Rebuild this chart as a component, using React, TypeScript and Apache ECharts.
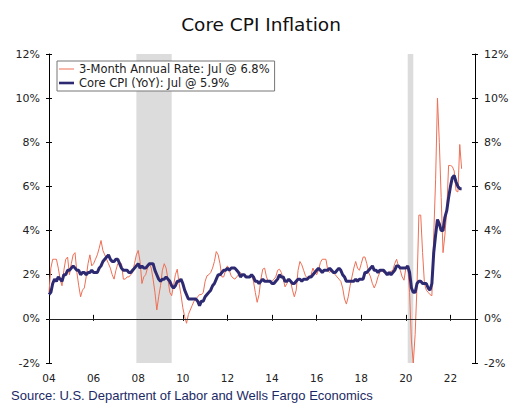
import React, { useEffect, useRef } from "react";
import * as echarts from "echarts";

const START_YEAR = 2004;
const seriesNames = ["3-Month Annual Rate: Jul @ 6.8%", "Core CPI (YoY): Jul @ 5.9%"];
const yTicks = { min: -2, max: 12, interval: 2 };
const recessions: [number, number][] = [
  [2007.917, 2009.5],
  [2020.083, 2020.333],
];

// 3-month annualized rate, monthly from Jan 2004
const threeMonth: number[] = [
  // 2004
  1.2, 2.3, 2.7, 2.7, 2.7, 2.3, 1.8, 1.5, 2.2, 2.7, 2.8, 2.0,
  // 2005
  2.5, 2.9, 3.0, 2.1, 1.5, 1.0, 1.3, 1.4, 1.9, 2.5, 2.9, 2.4,
  // 2006
  2.5, 2.7, 2.9, 3.2, 3.55, 3.1, 2.9, 2.7, 2.5, 2.3, 2.0, 1.8,
  // 2007
  2.2, 2.5, 2.5, 2.5, 1.8, 1.8, 1.9, 1.9, 2.0, 2.1, 2.5, 2.9,
  // 2008
  3.1, 2.6, 1.6, 1.9, 2.0, 2.3, 2.5, 2.3, 1.8, 1.2, 0.4, 1.0,
  // 2009
  1.5, 2.2, 2.5, 2.3, 1.8, 1.2, 1.05, 1.5, 2.0, 2.25, 1.6, 1.1,
  // 2010
  0.5, 0.1, -0.2, 0.2, 0.4, 0.6, 0.8, 0.9, 1.0, 1.1, 1.1, 1.2,
  // 2011
  1.7, 1.95, 2.0, 2.1, 2.3, 2.6, 3.05, 2.9, 2.5, 1.9, 1.9, 2.2,
  // 2012
  2.4, 2.2, 1.95, 1.85, 1.8, 1.9, 2.0, 2.1, 2.0, 1.95, 1.9, 1.9,
  // 2013
  1.95, 2.0, 1.7, 1.2, 0.75, 1.1, 1.8, 2.25, 2.3, 1.9, 1.7, 1.65,
  // 2014
  1.7, 1.8, 1.9, 2.2, 2.25, 2.1, 1.8, 1.45, 1.6, 1.75, 1.7, 1.3,
  // 2015
  1.0, 1.3, 2.2, 2.6, 2.45, 2.2, 1.95, 1.85, 1.9, 2.0, 2.3, 2.1,
  // 2016
  2.0, 2.2, 2.55, 2.7, 2.7, 2.7, 2.2, 2.1, 2.2, 2.1, 2.0, 1.9,
  // 2017
  1.8, 1.7, 1.4, 0.9, 0.67, 1.0, 1.5, 1.9, 2.3, 2.6, 2.3, 2.2,
  // 2018
  2.5, 2.8, 2.8, 2.5, 2.1, 1.9, 1.6, 1.4, 1.6, 1.9, 2.1, 2.2,
  // 2019
  2.1, 2.1, 2.05, 2.1, 2.15, 2.2, 2.5, 2.7, 2.4, 2.2, 1.9, 1.75,
  // 2020
  2.3, 2.4, 1.2, -1.0, -2.0, -0.7, 1.5, 4.7, 4.7, 3.0, 1.6, 1.3,
  // 2021
  1.2, 1.1, 1.05, 3.8, 6.3, 10.0, 8.0, 5.5, 3.0, 3.8, 4.9, 6.95,
  // 2022
  6.95, 6.9, 6.7, 5.8, 5.75, 7.9, 6.8,
];

// Core CPI year-over-year, monthly from Jan 2004
const coreYoY: number[] = [
  // 2004
  1.1, 1.2, 1.6, 1.8, 1.7, 1.9, 1.8, 1.7, 2.0, 2.0, 2.2, 2.2,
  // 2005
  2.3, 2.4, 2.3, 2.2, 2.2, 2.0, 2.1, 2.1, 2.0, 2.1, 2.1, 2.2,
  // 2006
  2.1, 2.1, 2.1, 2.3, 2.4, 2.6, 2.7, 2.8, 2.9, 2.7, 2.6, 2.6,
  // 2007
  2.7, 2.7, 2.5, 2.3, 2.2, 2.2, 2.2, 2.1, 2.1, 2.2, 2.3, 2.4,
  // 2008
  2.5, 2.3, 2.4, 2.3, 2.3, 2.4, 2.5, 2.5, 2.5, 2.2, 2.0, 1.8,
  // 2009
  1.7, 1.8, 1.8, 1.9, 1.8, 1.7, 1.5, 1.4, 1.5, 1.7, 1.7, 1.8,
  // 2010
  1.6, 1.3, 1.1, 0.9, 0.9, 0.9, 0.9, 0.9, 0.8, 0.6, 0.8, 0.8,
  // 2011
  1.0, 1.1, 1.2, 1.3, 1.5, 1.6, 1.8, 2.0, 2.0, 2.1, 2.2, 2.2,
  // 2012
  2.3, 2.2, 2.3, 2.3, 2.3, 2.2, 2.1, 1.9, 2.0, 2.0, 1.9, 1.9,
  // 2013
  1.9, 2.0, 1.9, 1.7, 1.7, 1.6, 1.7, 1.8, 1.7, 1.7, 1.7, 1.7,
  // 2014
  1.6, 1.6, 1.7, 1.8, 2.0, 1.9, 1.9, 1.7, 1.7, 1.8, 1.7, 1.6,
  // 2015
  1.6, 1.7, 1.8, 1.8, 1.7, 1.8, 1.8, 1.8, 1.9, 1.9, 2.0, 2.1,
  // 2016
  2.2, 2.3, 2.2, 2.1, 2.2, 2.2, 2.2, 2.3, 2.2, 2.1, 2.1, 2.2,
  // 2017
  2.3, 2.2, 2.0, 1.9, 1.7, 1.7, 1.7, 1.7, 1.7, 1.8, 1.7, 1.8,
  // 2018
  1.8, 1.8, 2.1, 2.1, 2.2, 2.3, 2.4, 2.2, 2.2, 2.1, 2.2, 2.2,
  // 2019
  2.2, 2.1, 2.0, 2.1, 2.0, 2.1, 2.2, 2.4, 2.4, 2.3, 2.3, 2.3,
  // 2020
  2.3, 2.4, 2.1, 1.4, 1.2, 1.2, 1.6, 1.7, 1.7, 1.6, 1.6, 1.6,
  // 2021
  1.4, 1.3, 1.6, 3.0, 3.8, 4.5, 4.3, 4.0, 4.0, 4.6, 4.9, 5.5,
  // 2022
  6.0, 6.4, 6.5, 6.2, 6.0, 5.9, 5.9,
];

const FONT = "Verdana, 'DejaVu Sans', sans-serif";

const toPairs = (arr: number[]) => arr.map((v, i) => [START_YEAR + i / 12, v]);

export default function App() {
  const ref = useRef<HTMLDivElement>(null);
  useEffect(() => {
    if (!ref.current) return;
    const chart = echarts.init(ref.current, null, { renderer: "svg" });
    const xMin = 2004;
    const xMax = 2023.1;
    const xFmt = (v: number) => {
      if (Math.abs(v - Math.round(v)) > 0.01 || Math.round(v) % 2 !== 0) return "";
      return String(Math.round(v) % 100).padStart(2, "0");
    };
    const yAxisBase = {
      type: "value",
      min: yTicks.min,
      max: yTicks.max,
      interval: yTicks.interval,
      splitLine: { show: false },
    };
    const xAxisBase = {
      type: "value",
      min: xMin,
      max: xMax,
      interval: 2,
      splitLine: { show: false },
    };
    chart.setOption({
      animation: false,
      backgroundColor: "#fff",
      grid: { left: 49, right: 57, top: 54, bottom: 57, containLabel: false },
      graphic: [
        {
          type: "text",
          x: 261,
          y: 24,
          style: {
            text: "Core CPI Inflation",
            align: "center",
            verticalAlign: "middle",
            font: `18.5px ${FONT}`,
            fill: "#111",
          },
        },
        {
          type: "text",
          x: 11,
          y: 395,
          style: {
            text: "Source: U.S. Department of Labor and Wells Fargo Economics",
            align: "left",
            verticalAlign: "middle",
            font: "13px 'Liberation Sans', Arial, sans-serif",
            fill: "#1b2a66",
          },
        },
      ],
      legend: {
        data: [
          { name: seriesNames[0], icon: "path://M0,0h15v1H0z" },
          { name: seriesNames[1], icon: "path://M0,0h15v2.6H0z" },
        ],
        orient: "vertical",
        left: 57,
        top: 61,
        itemWidth: 15,
        itemHeight: 10,
        itemGap: 2,
        symbolKeepAspect: true,
        padding: [2, 5, 2, 2],
        borderColor: "#777",
        borderWidth: 1,
        backgroundColor: "#fff",
        textStyle: { fontFamily: FONT, fontSize: 11.5, color: "#222" },
      },
      xAxis: [
        {
          ...xAxisBase,
          position: "bottom",
          axisLine: { show: true, lineStyle: { color: "#000", width: 1 } },
          axisTick: { show: true, inside: false, length: 2, lineStyle: { color: "#000" } },
          axisLabel: {
            show: true,
            margin: 9,
            formatter: xFmt,
            showMaxLabel: false,
            fontFamily: FONT,
            fontSize: 10.5,
            color: "#222",
          },
        },
        {
          ...xAxisBase,
          position: "bottom",
          axisLine: { show: false },
          axisTick: { show: true, inside: true, length: 4, lineStyle: { color: "#000" } },
          axisLabel: { show: false },
        },
        {
          ...xAxisBase,
          position: "top",
          axisLine: { show: true, lineStyle: { color: "#999", width: 1 } },
          axisTick: { show: false },
          axisLabel: { show: false },
        },
      ],
      yAxis: [
        {
          ...yAxisBase,
          position: "left",
          axisLine: { show: true, lineStyle: { color: "#000", width: 1 } },
          axisTick: { show: true, inside: false, length: 3, lineStyle: { color: "#000" } },
          axisLabel: {
            margin: 9,
            formatter: (v: number) => `${v}%`,
            fontFamily: FONT,
            fontSize: 11,
            color: "#222",
          },
        },
        {
          ...yAxisBase,
          position: "left",
          axisLine: { show: false },
          axisTick: { show: true, inside: true, length: 3, lineStyle: { color: "#000" } },
          axisLabel: { show: false },
        },
        {
          ...yAxisBase,
          position: "right",
          axisLine: { show: true, lineStyle: { color: "#000", width: 1 } },
          axisTick: { show: true, inside: false, length: 3, lineStyle: { color: "#000" } },
          axisLabel: {
            margin: 9,
            formatter: (v: number) => `${v}%`,
            fontFamily: FONT,
            fontSize: 11,
            color: "#222",
          },
        },
        {
          ...yAxisBase,
          position: "right",
          axisLine: { show: false },
          axisTick: { show: true, inside: true, length: 3, lineStyle: { color: "#000" } },
          axisLabel: { show: false },
        },
      ],
      series: [
        {
          name: "recessions",
          type: "line",
          data: [],
          xAxisIndex: 0,
          yAxisIndex: 0,
          z: 1,
          silent: true,
          markArea: {
            silent: true,
            itemStyle: { color: "#dcdcdc" },
            data: recessions.map(([a, b]) => [{ xAxis: a }, { xAxis: b }]),
          },
          markLine: {
            silent: true,
            symbol: "none",
            label: { show: false },
            lineStyle: { color: "#222", width: 1, type: "solid" },
            data: [{ yAxis: 0 }],
          },
        },
        {
          name: seriesNames[0],
          type: "line",
          data: toPairs(threeMonth),
          xAxisIndex: 0,
          yAxisIndex: 0,
          showSymbol: false,
          symbol: "none",
          z: 3,
          lineStyle: { color: "#ee6f55", width: 1 },
          itemStyle: { color: "#ee6f55" },
        },
        {
          name: seriesNames[1],
          type: "line",
          data: toPairs(coreYoY),
          xAxisIndex: 0,
          yAxisIndex: 0,
          showSymbol: false,
          symbol: "none",
          z: 4,
          lineStyle: { color: "#2d2a72", width: 3 },
          itemStyle: { color: "#2d2a72" },
        },
      ],
    });
    return () => chart.dispose();
  }, []);
  return (
    <div
      ref={ref}
      style={{ position: "fixed", left: 0, top: 0, width: 532, height: 420, background: "#fff" }}
    />
  );
}
